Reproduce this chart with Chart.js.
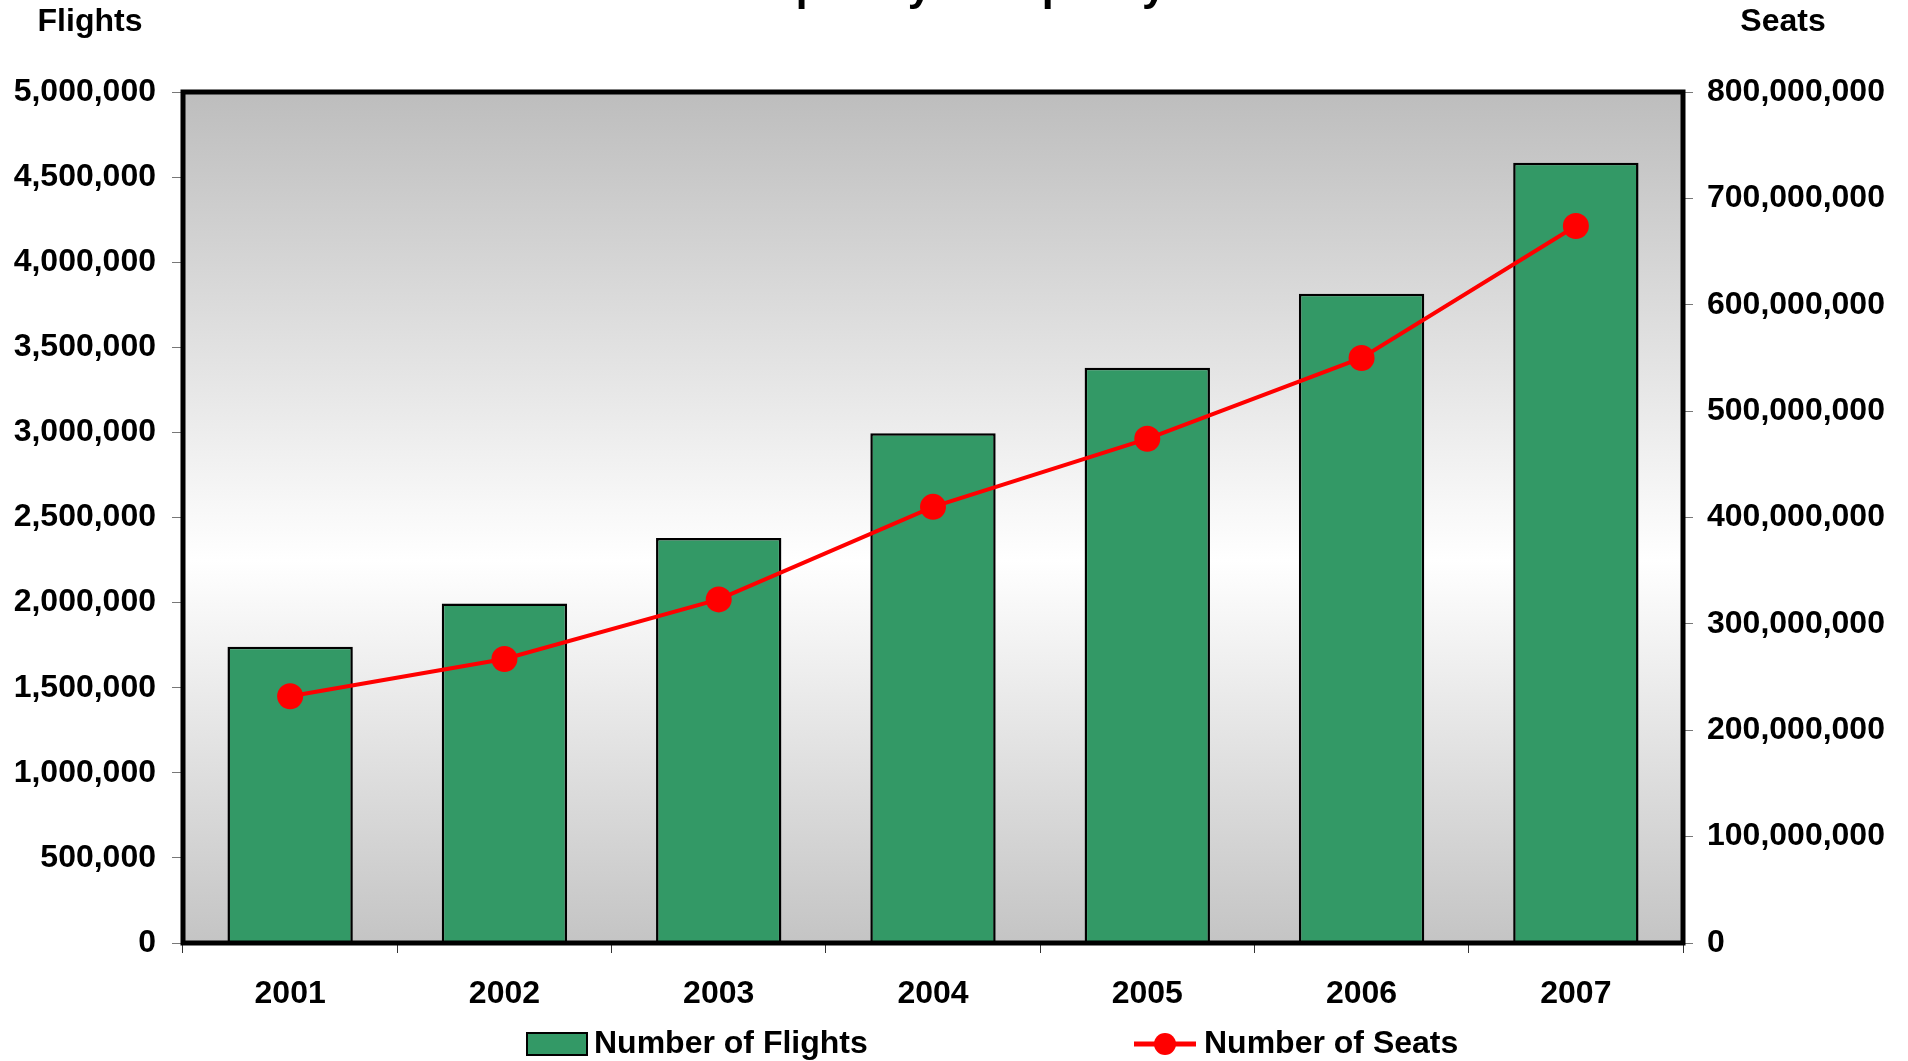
<!DOCTYPE html>
<html>
<head>
<meta charset="utf-8">
<title>Flights and Seats</title>
<script src="https://cdn.jsdelivr.net/npm/chart.js@4.4.1/dist/chart.umd.min.js"></script>
<style>
  html, body { margin: 0; padding: 0; background: #ffffff; }
  #wrap { width: 1908px; height: 1061px; position: relative; }
</style>
</head>
<body>
<div id="wrap"><canvas id="chart" width="1908" height="1061"></canvas></div>
<script>
  // chart data
  const years = ["2001", "2002", "2003", "2004", "2005", "2006", "2007"];
  const flights = [1740000, 1995000, 2380000, 2995000, 3380000, 3815000, 4585000];
  const seats = [232000000, 267000000, 323000000, 410000000, 474000000, 550000000, 674000000];

  const chartTitle = "Growth in Seat Frequency & Capacity from 2001-2007";
  const leftTitle = "Flights";
  const rightTitle = "Seats";
  const flightsLabel = "Number of Flights";
  const seatsLabel = "Number of Seats";

  const FONT = "'Liberation Sans', Arial, sans-serif";
  const GREEN = "#339966";
  const RED = "#ff0000";

  // gradient plot background + thick frame
  const plotFrame = {
    id: "plotFrame",
    beforeDraw(chart) {
      const { ctx, chartArea: a } = chart;
      ctx.save();
      ctx.fillStyle = "#ffffff";
      ctx.fillRect(0, 0, chart.width, chart.height);
      const g = ctx.createLinearGradient(0, a.top, 0, a.bottom);
      g.addColorStop(0, "#bdbdbd");
      g.addColorStop(0.55, "#ffffff");
      g.addColorStop(1, "#c4c4c4");
      ctx.fillStyle = g;
      ctx.fillRect(a.left, a.top, a.right - a.left, a.bottom - a.top);
      ctx.restore();
    },
    afterDraw(chart) {
      const { ctx, chartArea: a } = chart;
      ctx.save();
      ctx.strokeStyle = "#000000";
      ctx.lineWidth = 5;
      ctx.strokeRect(a.left, a.top, a.right - a.left, a.bottom - a.top);

      // title (mostly cut off at the top edge, as in the picture)
      ctx.fillStyle = "#000000";
      ctx.textAlign = "center";
      ctx.textBaseline = "alphabetic";
      ctx.font = "bold 43px " + FONT;
      ctx.fillText(chartTitle, 945, 0);

      // axis titles
      ctx.font = "bold 32px " + FONT;
      ctx.textBaseline = "middle";
      ctx.fillText(leftTitle, 90, 22);
      ctx.fillText(rightTitle, 1783, 22);

      // legend
      const ly = 1044;
      ctx.textAlign = "left";
      ctx.fillStyle = GREEN;
      ctx.fillRect(527, ly - 11, 60, 22);
      ctx.strokeStyle = "#000000";
      ctx.lineWidth = 2;
      ctx.strokeRect(527, ly - 11, 60, 22);
      ctx.fillStyle = "#000000";
      ctx.fillText(flightsLabel, 594, ly);

      ctx.strokeStyle = RED;
      ctx.lineWidth = 5;
      ctx.beginPath();
      ctx.moveTo(1134, ly);
      ctx.lineTo(1196, ly);
      ctx.stroke();
      ctx.fillStyle = RED;
      ctx.beginPath();
      ctx.arc(1165, ly, 11, 0, Math.PI * 2);
      ctx.fill();
      ctx.fillStyle = "#000000";
      ctx.fillText(seatsLabel, 1204, ly);
      ctx.restore();
    }
  };

  const tickFont = { family: FONT, size: 32, weight: "bold" };
  const fmt = (v) => Number(v).toLocaleString("en-US");

  new Chart(document.getElementById("chart"), {
    data: {
      labels: years,
      datasets: [
        {
          type: "line",
          label: seatsLabel,
          data: seats,
          yAxisID: "ySeats",
          borderColor: RED,
          backgroundColor: RED,
          borderWidth: 4,
          pointRadius: 13,
          pointBorderWidth: 0,
          pointBackgroundColor: RED,
          tension: 0,
          order: 0
        },
        {
          type: "bar",
          label: flightsLabel,
          data: flights,
          yAxisID: "yFlights",
          backgroundColor: GREEN,
          borderColor: "#000000",
          borderWidth: 2.5,
          categoryPercentage: 1,
          barPercentage: 0.585,
          order: 1
        }
      ]
    },
    options: {
      responsive: false,
      animation: false,
      layout: { padding: { top: 92, left: 0, right: 0, bottom: 0 } },
      plugins: {
        legend: { display: false },
        title: { display: false },
        tooltip: { enabled: false }
      },
      scales: {
        x: {
          border: { display: false },
          grid: { drawOnChartArea: false, drawTicks: true, tickLength: 10, color: "#333333", offset: true },
          ticks: { color: "#000000", font: tickFont, padding: 22, maxRotation: 0 },
          afterFit(scale) { scale.height = 118; }
        },
        yFlights: {
          position: "left",
          min: 0,
          max: 5000000,
          border: { display: false },
          grid: { drawOnChartArea: false, drawTicks: true, tickLength: 11, color: "#777777" },
          ticks: { stepSize: 500000, color: "#000000", font: tickFont, padding: 16, callback: fmt },
          afterFit(scale) { scale.width = 183; }
        },
        ySeats: {
          position: "right",
          min: 0,
          max: 800000000,
          border: { display: false },
          grid: { drawOnChartArea: false, drawTicks: true, tickLength: 10, color: "#777777" },
          ticks: { stepSize: 100000000, color: "#000000", font: tickFont, padding: 14, callback: fmt },
          afterFit(scale) { scale.width = 225; }
        }
      }
    },
    plugins: [plotFrame]
  });
</script>
</body>
</html>
